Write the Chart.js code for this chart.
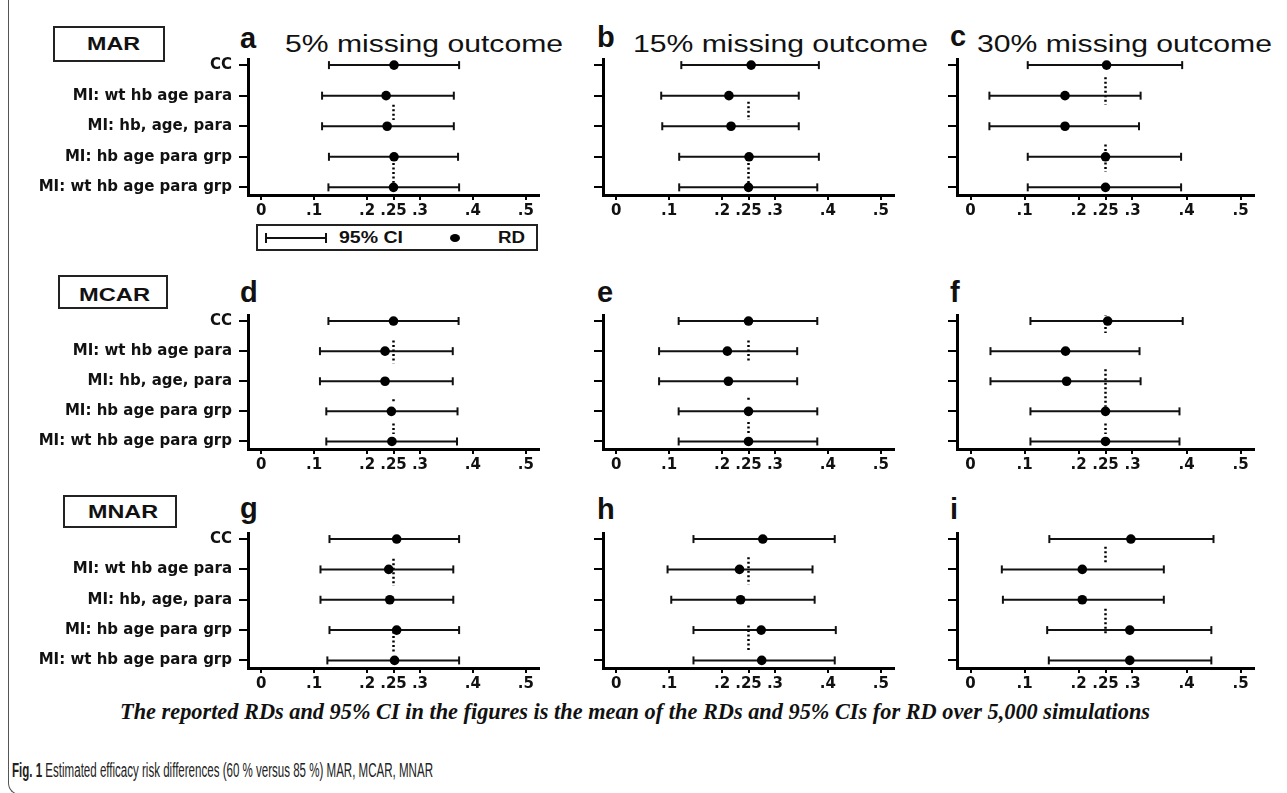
<!DOCTYPE html>
<html>
<head>
<meta charset="utf-8">
<script src="https://cdn.jsdelivr.net/npm/chart.js@4.4.0/dist/chart.umd.min.js"></script>
<style>
    body { margin: 0; background: #fff; }
    #page { position: relative; width: 1287px; height: 793px; overflow: hidden; font-family: "Liberation Sans", Arial, sans-serif; color: #111; }
    .abs { position: absolute; white-space: nowrap; line-height: 1; transform-origin: 0 0; }
    .letter { font-weight: bold; font-size: 29px; }
    .title { font-size: 23px; }
    .tag { font-weight: bold; font-size: 18px; }
    .box { position: absolute; border: 2px solid #222; box-sizing: border-box; }
    .frame { position: absolute; left: 8px; top: -5px; width: 1300px; height: 800px; border-left: 1.5px solid #555; border-bottom: 1.5px solid #555; border-bottom-left-radius: 12px; box-sizing: border-box; }
    .note { font-family: "Liberation Serif", "Times New Roman", serif; font-weight: bold; font-style: italic; font-size: 24px; }
    .caption { font-family: "Liberation Sans Narrow", "Liberation Sans", sans-serif; font-size: 20px; color: #222; }
</style>
</head>
<body>
<div id="page">
    <div class="frame"></div>

    <div class="box" style="left:53px;top:26px;width:112px;height:36px;"></div>
    <div class="abs tag" data-w="53" style="left:87px;top:35px;">MAR</div>
    <div class="box" style="left:58px;top:275px;width:110px;height:34px;"></div>
    <div class="abs tag" data-w="71" style="left:79px;top:286px;">MCAR</div>
    <div class="box" style="left:63px;top:495px;width:114px;height:33px;"></div>
    <div class="abs tag" data-w="70" style="left:88px;top:503px;">MNAR</div>

    <div class="abs letter" style="left:240px;top:24px;">a</div>
    <div class="abs title" data-w="278" style="left:285px;top:33px;">5% missing outcome</div>
    <div class="abs letter" style="left:597px;top:23px;">b</div>
    <div class="abs title" data-w="295" style="left:633px;top:33px;">15% missing outcome</div>
    <div class="abs letter" style="left:950px;top:22px;">c</div>
    <div class="abs title" data-w="295" style="left:977px;top:33px;">30% missing outcome</div>
    <div class="abs letter" style="left:240px;top:278px;">d</div>
    <div class="abs letter" style="left:597px;top:278px;">e</div>
    <div class="abs letter" style="left:950px;top:278px;">f</div>
    <div class="abs letter" style="left:240px;top:494px;">g</div>
    <div class="abs letter" style="left:597px;top:495px;">h</div>
    <div class="abs letter" style="left:950px;top:495px;">i</div>

    <div class="box" style="left:256px;top:224px;width:282px;height:27px;"></div>
    <div style="position:absolute;left:265px;top:237px;width:62px;height:2px;background:#111;"></div>
    <div style="position:absolute;left:265px;top:233px;width:2px;height:10px;background:#111;"></div>
    <div style="position:absolute;left:325px;top:233px;width:2px;height:10px;background:#111;"></div>
    <div class="abs tag" data-w="64" style="left:339px;top:230px;font-size:16px;">95% CI</div>
    <div style="position:absolute;left:450px;top:234px;width:10px;height:8px;border-radius:50%;background:#000;"></div>
    <div class="abs tag" data-w="27" style="left:498px;top:230px;font-size:16px;">RD</div>

    <div class="abs note" data-w="1030" style="left:120px;top:699px;">The reported RDs and 95% CI in the figures is the mean of the RDs and 95% CIs for RD over 5,000 simulations</div>
    <div class="abs caption" data-w="421" style="left:12px;top:760px;"><b>Fig. 1</b> Estimated efficacy risk differences (60 % versus 85 %) MAR, MCAR, MNAR</div>
</div>

<script>
const rowLabels = ['CC', 'MI: wt hb age para', 'MI: hb, age, para', 'MI: hb age para grp', 'MI: wt hb age para grp'];
const xTickValues = [0, 0.1, 0.2, 0.25, 0.3, 0.4, 0.5];
const refRD = 0.25;

// MAR
const loA = [0.128, 0.115, 0.115, 0.128, 0.127];
const rdA = [0.251, 0.236, 0.238, 0.251, 0.250];
const hiA = [0.374, 0.364, 0.364, 0.372, 0.374];
const refA = [[1.3, 1.8], [3.2, 3.85]];

const loB = [0.123, 0.085, 0.087, 0.119, 0.119];
const rdB = [0.255, 0.213, 0.217, 0.251, 0.250];
const hiB = [0.383, 0.345, 0.345, 0.383, 0.380];
const refB = [[1.2, 1.8], [3.2, 3.9]];

const loC = [0.106, 0.035, 0.035, 0.106, 0.106];
const rdC = [0.252, 0.175, 0.175, 0.250, 0.250];
const hiC = [0.392, 0.315, 0.312, 0.390, 0.390];
const refC = [[0.4, 1.3], [2.6, 3.5]];

// MCAR
const loD = [0.127, 0.111, 0.111, 0.123, 0.123];
const rdD = [0.250, 0.234, 0.234, 0.246, 0.247];
const hiD = [0.373, 0.362, 0.362, 0.371, 0.370];
const refD = [[0.65, 1.4], [2.6, 2.7], [3.4, 3.75]];

const loE = [0.118, 0.081, 0.081, 0.118, 0.118];
const rdE = [0.250, 0.210, 0.212, 0.250, 0.250];
const hiE = [0.380, 0.342, 0.342, 0.380, 0.380];
const refE = [[0.65, 1.35], [2.55, 2.65], [3.35, 3.75]];

const loF = [0.111, 0.037, 0.037, 0.111, 0.111];
const rdF = [0.254, 0.176, 0.178, 0.250, 0.250];
const hiF = [0.393, 0.313, 0.315, 0.387, 0.387];
const refF = [[-0.25, 0.4], [1.6, 2.85], [3.4, 3.75]];

// MNAR
const loG = [0.129, 0.112, 0.112, 0.129, 0.125];
const rdG = [0.256, 0.241, 0.243, 0.256, 0.252];
const hiG = [0.374, 0.363, 0.363, 0.374, 0.374];
const refG = [[0.65, 1.55], [3.05, 3.75]];

const loH = [0.146, 0.097, 0.104, 0.146, 0.146];
const rdH = [0.277, 0.233, 0.235, 0.274, 0.275];
const hiH = [0.413, 0.371, 0.375, 0.415, 0.413];
const refH = [[0.6, 1.5], [2.85, 3.7]];

const loI = [0.146, 0.058, 0.060, 0.142, 0.145];
const rdI = [0.297, 0.207, 0.207, 0.295, 0.295];
const hiI = [0.450, 0.358, 0.358, 0.446, 0.446];
const refI = [[0.25, 0.85], [2.3, 3.15]];

// plot area of each column / row, in page pixels
const colLeft = [248, 603, 957];
const colWidth = [291, 291, 297];
const rowTop = [59, 315, 533];
const rowHeight = [136, 134, 135];

const panels = [
    { col: 0, row: 0, lo: loA, rd: rdA, hi: hiA, ref: refA },
    { col: 1, row: 0, lo: loB, rd: rdB, hi: hiB, ref: refB },
    { col: 2, row: 0, lo: loC, rd: rdC, hi: hiC, ref: refC },
    { col: 0, row: 1, lo: loD, rd: rdD, hi: hiD, ref: refD },
    { col: 1, row: 1, lo: loE, rd: rdE, hi: hiE, ref: refE },
    { col: 2, row: 1, lo: loF, rd: rdF, hi: hiF, ref: refF },
    { col: 0, row: 2, lo: loG, rd: rdG, hi: hiG, ref: refG },
    { col: 1, row: 2, lo: loH, rd: rdH, hi: hiH, ref: refH },
    { col: 2, row: 2, lo: loI, rd: rdI, hi: hiI, ref: refI }
];

const tickFont = { family: 'DejaVu Sans', weight: 'bold', size: 15 };

function createPanel(p) {
    const yW = p.col === 0 ? 228 : 20;
    // y scale reserves half a label line plus tick padding above the first row
    const padTop = 16, padRight = 14, xH = 26;

    const wrap = document.createElement('div');
    wrap.style.cssText = 'position:absolute;left:' + (colLeft[p.col] - yW) + 'px;top:' + (rowTop[p.row] - padTop) +
        'px;width:' + (yW + colWidth[p.col] + padRight) + 'px;height:' + (padTop + rowHeight[p.row] + xH) + 'px;';
    const canvas = document.createElement('canvas');
    wrap.appendChild(canvas);
    document.getElementById('page').appendChild(wrap);

    let ciData = [];
    p.lo.forEach((lo, i) => {
        ciData.push({ x: lo, y: i }, { x: p.hi[i], y: i }, { x: p.hi[i], y: null });
    });
    let refData = [];
    p.ref.forEach(([a, b]) => {
        refData.push({ x: refRD, y: a }, { x: refRD, y: b }, { x: refRD, y: null });
    });
    const rdData = p.rd.map((v, i) => ({ x: v, y: i }));

    new Chart(canvas, {
        type: 'scatter',
        data: {
            datasets: [
                { data: rdData, pointRadius: 4.8, pointBackgroundColor: '#000', pointBorderWidth: 0, order: 0 },
                {
                    data: ciData, showLine: true, spanGaps: false, borderColor: '#111', borderWidth: 2,
                    pointStyle: 'line', rotation: 90, pointRadius: 4, pointBorderWidth: 2, pointBorderColor: '#111', order: 1
                },
                {
                    data: refData, showLine: true, spanGaps: false, borderColor: '#000', borderWidth: 2.5,
                    borderDash: [2, 2.5], pointRadius: 0, order: 2
                }
            ]
        },
        options: {
            responsive: true,
            maintainAspectRatio: false,
            animation: false,
            events: [],
            layout: { padding: { top: padTop, right: padRight, left: 0, bottom: 0 } },
            plugins: { legend: { display: false }, tooltip: { enabled: false } },
            scales: {
                x: {
                    type: 'linear', min: -0.025, max: 0.525,
                    afterBuildTicks: s => { s.ticks = xTickValues.map(v => ({ value: v })); },
                    afterFit: s => { s.height = xH; },
                    ticks: {
                        autoSkip: false, maxRotation: 0, padding: 2, color: '#111', font: tickFont,
                        callback: v => v === 0 ? '0' : String(v).replace(/^0/, '')
                    },
                    grid: { drawOnChartArea: false, drawTicks: true, tickLength: 5, color: '#000', lineWidth: 2 },
                    border: { display: true, color: '#000', width: 3 }
                },
                y: {
                    type: 'linear', reverse: true, min: -0.2, max: 4.25,
                    afterBuildTicks: s => { s.ticks = rowLabels.map((_, i) => ({ value: i })); },
                    afterFit: s => { s.width = yW; },
                    ticks: {
                        autoSkip: false, padding: 7, color: '#111', font: tickFont,
                        callback: v => p.col === 0 ? rowLabels[v] : ''
                    },
                    grid: { drawOnChartArea: false, drawTicks: true, tickLength: 9, color: '#000', lineWidth: 2 },
                    border: { display: true, color: '#000', width: 3 }
                }
            }
        }
    });
}

panels.forEach(createPanel);

// stretch text horizontally to the widths seen in the figure
document.querySelectorAll('[data-w]').forEach(el => {
    const w = el.getBoundingClientRect().width;
    el.style.transform = 'scaleX(' + (el.dataset.w / w) + ')';
});
</script>
</body>
</html>
